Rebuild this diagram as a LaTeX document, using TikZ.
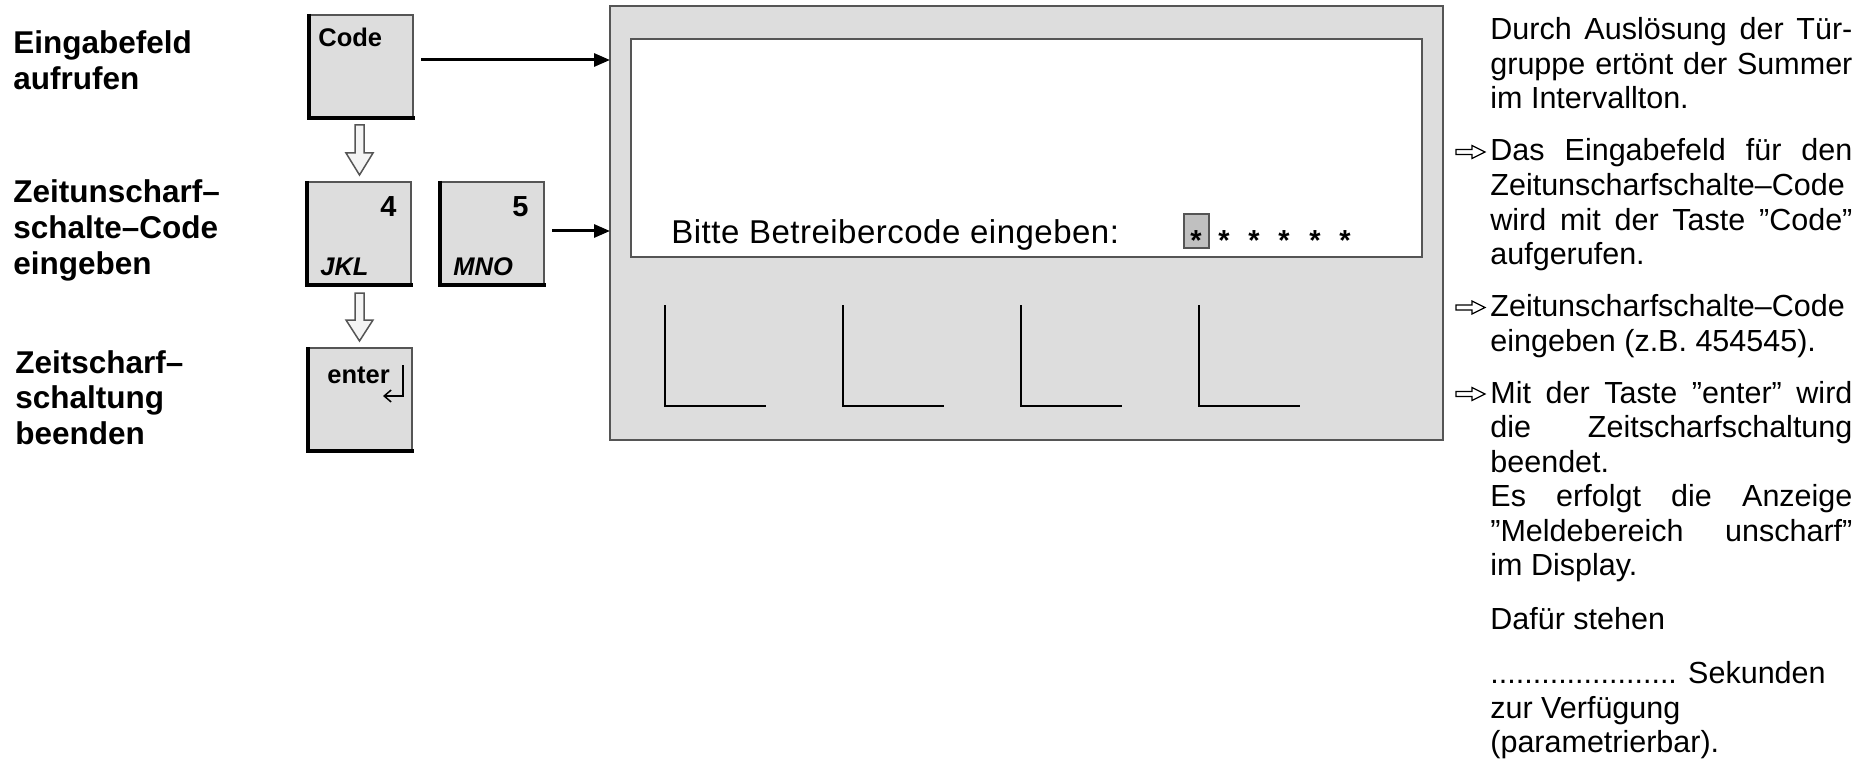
\documentclass[tikz,border=0pt]{standalone}
\usepackage{fontspec}
\setmainfont{Liberation Sans}
\newfontfamily\dispfont{Liberation Sans}[LetterSpace=1.5]
\usetikzlibrary{arrows.meta,calc}
\definecolor{keygray}{HTML}{DDDDDD}
\definecolor{edgegray}{HTML}{555555}
\definecolor{astgray}{HTML}{C0C0C0}
\definecolor{arrfill}{HTML}{F4F4F4}
\tikzset{
  keybox/.style={draw=edgegray, line width=0.75pt, fill=keygray, minimum width=52pt, minimum height=51.5pt, anchor=north west, inner sep=0pt, outer sep=0pt},
  keyshadow/.style={line width=2.25pt, black},
  keylbl/.style={font=\fontsize{12.75pt}{14pt}\selectfont\bfseries, inner sep=0pt, anchor=base west},
  keynum/.style={font=\fontsize{14.5pt}{16pt}\selectfont\bfseries, inner sep=0pt, anchor=base east},
  keyital/.style={font=\fontsize{12.75pt}{14pt}\selectfont\bfseries\itshape, inner sep=0pt, anchor=base west},
  steplbl/.style={font=\fontsize{15.75pt}{18pt}\selectfont\bfseries, inner sep=0pt, anchor=base west},
  desc/.style={font=\fontsize{15.25pt}{18pt}\selectfont, inner sep=0pt, anchor=base west},
  flow/.style={line width=1.5pt, -{Triangle[length=8pt,width=6.5pt]}},
  hollow/.style={draw=edgegray, line width=0.75pt, fill=arrfill, line join=miter},
  bulletarrow/.style={draw=black, line width=0.6pt, fill=white, line join=miter},
  softkey/.style={line width=1pt, black},
  panel/.style={draw=edgegray, line width=0.75pt, anchor=north west, inner sep=0pt, outer sep=0pt},
  star/.style={font=\fontsize{14.5pt}{16pt}\selectfont\bfseries, inner sep=0pt, anchor=base},
}
\newcommand\jl[3]{\node[desc] (#1) at (1490,#2) {\makebox[181pt][s]{#3}};}
\newcommand\nl[3]{\node[desc] (#1) at (1490,#2) {#3};}
\newcommand\bul[1]{\draw[bulletarrow] (1456,#1-11.5) -- (1472,#1-11.5) -- (1472,#1-15.5) -- (1485,#1-9) -- (1472,#1-2.5) -- (1472,#1-6.5) -- (1456,#1-6.5) -- cycle;}
\begin{document}
\begin{tikzpicture}[x=0.5pt,y=-0.5pt]
\useasboundingbox (0,0) rectangle (1872,759);

% left step labels
\node[steplbl] (l1) at (13,54) {Eingabefeld};
\node[steplbl] (l2) at (13,89.5) {aufrufen};
\node[steplbl] (l3) at (13,203) {Zeitunscharf–};
\node[steplbl] (l4) at (13,238.5) {schalte–Code};
\node[steplbl] (l5) at (13,274) {eingeben};
\node[steplbl] (l6) at (15,373) {Zeitscharf–};
\node[steplbl] (l7) at (15,408.5) {schaltung};
\node[steplbl] (l8) at (15,444) {beenden};

% keys
\node[keybox] (kcode) at (309,15) {};
\node[keybox] (k4) at (307,182) {};
\node[keybox] (k5) at (440,182) {};
\node[keybox] (kent) at (308,348) {};
\foreach \k in {kcode,k4,k5,kent}
  \draw[keyshadow] ([yshift=0.5pt]\k.north west) -- (\k.south west) -- ([xshift=1pt]\k.south east);

\node[keylbl] (tcode) at (318,47) {Code};
\node[keynum] (t4) at (397,217) {4};
\node[keyital] (tjkl) at (320,275) {JKL};
\node[keynum] (t5) at (529,217) {5};
\node[keyital] (tmno) at (453,275) {MNO};
\node[keylbl] (tent) at (327,383) {enter};
\coordinate (rts) at (403,365);
\coordinate (rte) at (383,396);
\draw[line width=0.75pt, -{Straight Barb[length=3.5pt,width=6pt]}] (rts) |- (rte);

% hollow step arrows
\path[hollow] (355,125) -- (364,125) -- (364,153) -- (373,153) -- (359.5,175) -- (346,153) -- (355,153) -- cycle;
\path[hollow] (355,293) -- (364,293) -- (364,320) -- (373,320) -- (359.5,341) -- (346,320) -- (355,320) -- cycle;

% display
\node[panel, fill=keygray, minimum width=416.5pt, minimum height=217pt] (disp) at (610,6) {};
\node[panel, fill=white, minimum width=395.5pt, minimum height=109pt] (scr) at (631,39) {};

\coordinate (a1) at (421,60);
\draw[flow] (a1) -- (a1 -| disp.west);
\coordinate (a2) at (552,231);
\draw[flow] (a2) -- (a2 -| disp.west);

\node[font=\dispfont\fontsize{16.5pt}{18pt}\selectfont, inner sep=0pt, anchor=base west] (prompt) at (671,243) {Bitte Betreibercode eingeben:};
\node[panel, fill=astgray, minimum width=12.5pt, minimum height=17pt] (cur) at (1184,214) {};
\foreach \x/\n in {1196/s1,1224/s2,1254/s3,1284/s4,1315/s5,1345/s6}
  \node[star] (\n) at (\x,250) {*};

\foreach \x in {665,843,1021,1199}
  \draw[softkey] (\x,305) -- (\x,406) -- (\x+101,406);

% right description
\jl{r1}{40}{Durch Auslösung der Tür-}
\jl{r2}{74.5}{gruppe ertönt der Summer}
\nl{r3}{109}{im Intervallton.}
\bul{161}
\jl{r4}{161}{Das Eingabefeld für den}
\nl{r5}{195.5}{Zeitunscharfschalte–Code}
\jl{r6}{230}{wird mit der Taste ”Code”}
\nl{r7}{264.5}{aufgerufen.}
\bul{316.5}
\nl{r8}{316.5}{Zeitunscharfschalte–Code}
\nl{r9}{351}{eingeben (z.B. 454545).}
\bul{403}
\jl{r10}{403}{Mit der Taste ”enter” wird}
\jl{r11}{437.5}{die Zeitscharfschaltung}
\nl{r12}{472}{beendet.}
\jl{r13}{506.5}{Es erfolgt die Anzeige}
\jl{r14}{541}{”Meldebereich unscharf”}
\nl{r15}{575.5}{im Display.}
\nl{r16}{629.5}{Dafür stehen}
\nl{r17}{683.5}{...................... Sekunden}
\nl{r18}{718}{zur Verfügung}
\nl{r19}{752.5}{(parametrierbar).}
\end{tikzpicture}
\end{document}
